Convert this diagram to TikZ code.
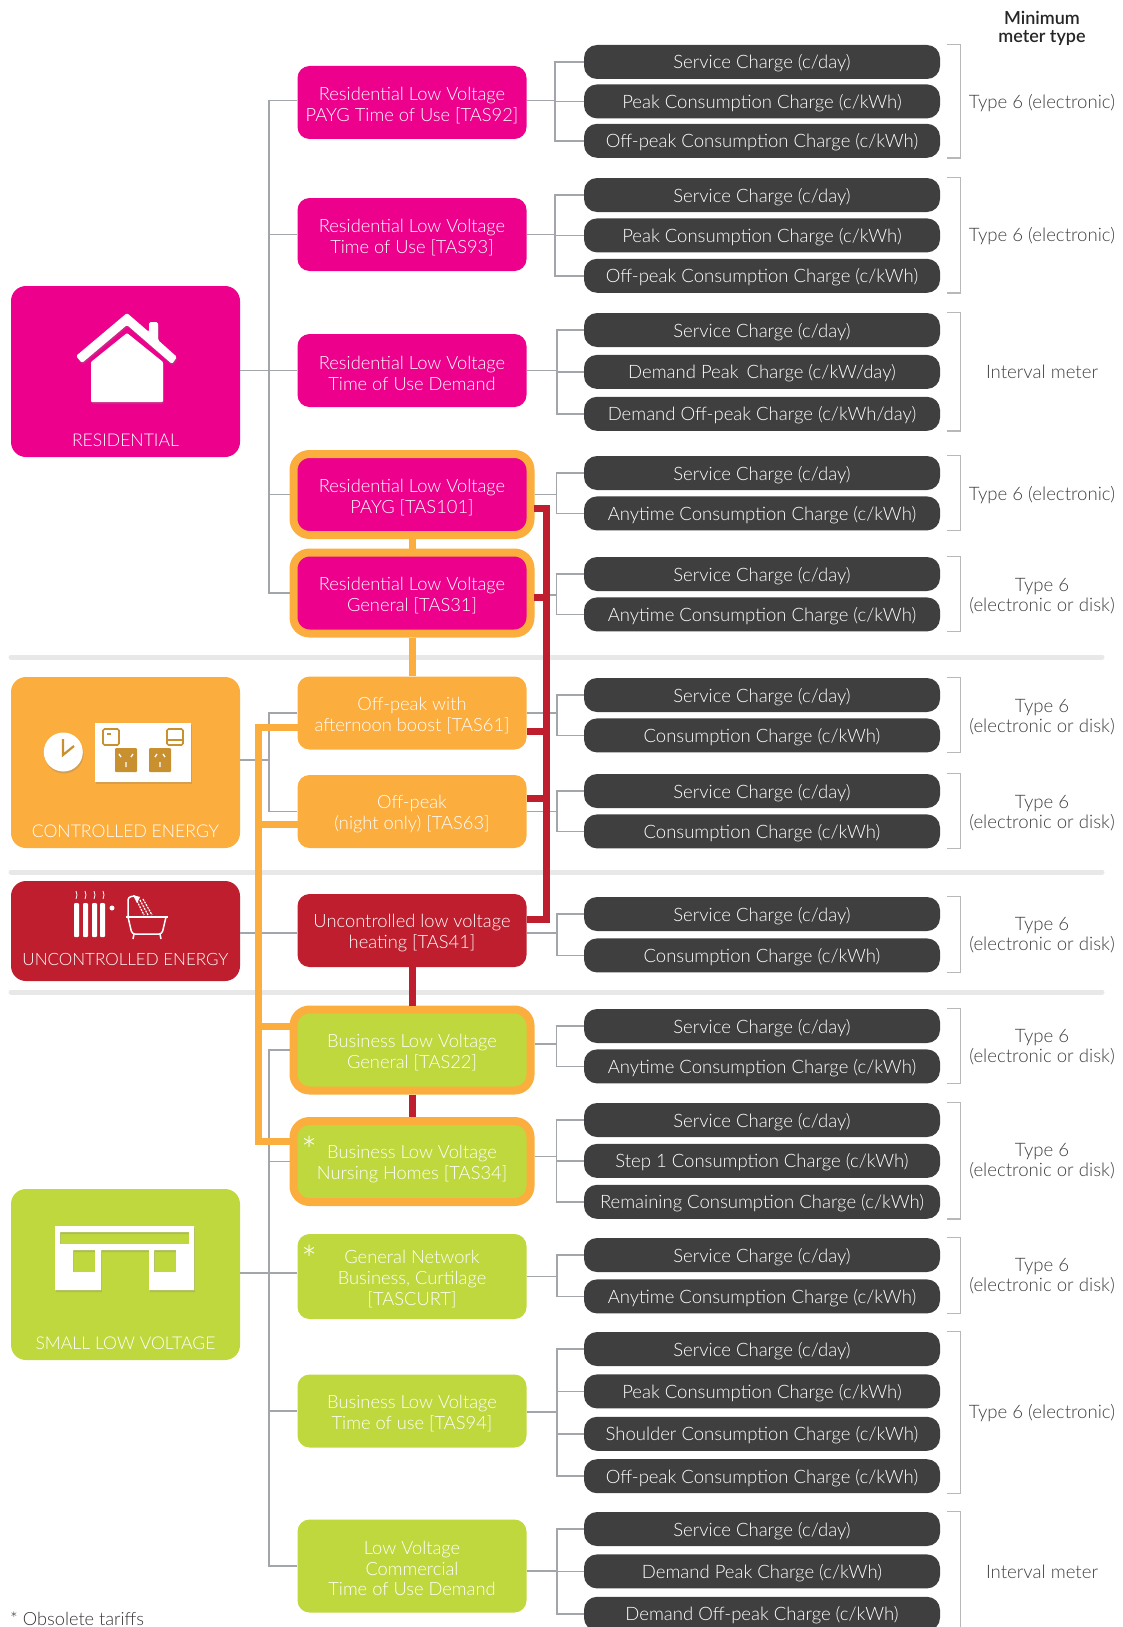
\documentclass[tikz,border=0pt]{standalone}
\usepackage{fontspec}
\setmainfont{Lato Light}
\usetikzlibrary{positioning,shadows}
\definecolor{respink}{HTML}{EC008C}
\definecolor{ctlorange}{HTML}{FBAD3E}
\definecolor{uncred}{HTML}{BE1E2D}
\definecolor{slvgreen}{HTML}{BFD83E}
\definecolor{chargegrey}{HTML}{3F3F40}
\definecolor{linkgrey}{HTML}{A2A5A9}
\definecolor{socketbrown}{HTML}{C8902F}
\tikzset{
  category/.style={rounded corners=15pt, minimum width=229pt, inner sep=0pt},
  catlabel/.style={text=white, inner sep=0pt, text depth=0pt, font=\fontsize{17.6}{20}\selectfont},
  tariff/.style={rounded corners=12pt, minimum width=229pt, minimum height=73pt, inner sep=0pt,
    text=white, align=center, font=\fontsize{18.3}{20.8}\selectfont,
    execute at begin node={\rule{0pt}{39.5pt}}},
  tarifflong/.style={tariff, execute at begin node={\rule{0pt}{60pt}}},
  ring/.style={tariff, draw=ctlorange, line width=8pt, rounded corners=16pt, minimum width=237pt, minimum height=81pt},
  charge/.style={fill=chargegrey, rounded corners=13pt, minimum width=356pt, minimum height=34pt, inner sep=0pt,
    text=white, text height=17pt, text depth=3pt, font=\fontsize{18.5}{20}\selectfont},
  meter/.style={text=black!75, align=center, inner sep=0pt, font=\fontsize{18.6}{20.5}\selectfont},
  link/.style={draw=linkgrey, line width=1.6pt},
  brace/.style={draw=black!28, line width=1.3pt},
  parting/.style={draw=black!9, line width=5pt, line cap=round},
  feedorange/.style={draw=ctlorange, line width=7pt},
  feedred/.style={draw=uncred, line width=7pt},
  icon/.style={fill=white, drop shadow={opacity=0.3, shadow xshift=0.8pt, shadow yshift=-2pt}},
  star/.style={text=white, inner sep=0pt, font=\fontsize{38}{38}\selectfont}
}
\providecommand{\bracket}[2]{\draw[brace] ([xshift=7pt]#1.north east) -- ([xshift=20pt]#1.north east) -- ([xshift=20pt]#2.south east) -- ([xshift=7pt]#2.south east);}
\providecommand{\fork}[4]{\draw[link] (#1.east |- #2) -- (#2); \draw[link] (#3.west) -| (#2) |- (#4.west);}

\begin{document}
\begin{tikzpicture}[x=1pt,y=-1pt]
\useasboundingbox (0,0) rectangle (1123,1627);

% Separators
\coordinate (pa) at (11,657);
\coordinate (pb) at (1102,657);
\coordinate (pc) at (11,872);
\coordinate (pd) at (1102,872);
\coordinate (pe) at (11,992);
\coordinate (pf) at (1102,992);
\draw[parting] (pa) -- (pb);
\draw[parting] (pc) -- (pd);
\draw[parting] (pe) -- (pf);

% Define nodes
\node[category, fill=respink,   minimum height=171pt] (res) at (125.5,371.5) {};
\node[category, fill=ctlorange, minimum height=171pt] (ctl) at (125.5,762.5) {};
\node[category, fill=uncred,    minimum height=100pt] (unc) at (125.5,931)   {};
\node[category, fill=slvgreen,  minimum height=171pt] (slv) at (125.5,1274.5){};

\node[catlabel, above=11pt of res.south] (reslabel) {RESIDENTIAL};
\node[catlabel, above=11pt of ctl.south] (ctllabel) {CONTROLLED ENERGY};
\node[catlabel, above=16pt of unc.south, font=\fontsize{17}{20}\selectfont] (unclabel) {UNCONTROLLED ENERGY};
\node[catlabel, above=11pt of slv.south] (slvlabel) {SMALL LOW VOLTAGE};

\node[tariff, fill=respink]   (t92)   at (412,102.5) {Residential Low Voltage\\PAYG Time of Use [TAS92]};
\node[tariff, fill=respink]   (t93)   at (412,234.5) {Residential Low Voltage\\Time of Use [TAS93]};
\node[tariff, fill=respink]   (trd)   at (412,370.5) {Residential Low Voltage\\Time of Use Demand};
\node[ring,   fill=respink]   (t101)  at (412,494.5) {Residential Low Voltage\\PAYG [TAS101]};
\node[ring,   fill=respink]   (t31)   at (412,593)   {Residential Low Voltage\\General [TAS31]};
\node[tariff, fill=ctlorange] (t61)   at (412,713)   {Off-peak with\\afternoon boost [TAS61]};
\node[tariff, fill=ctlorange] (t63)   at (412,811.5) {Off-peak\\(night only) [TAS63]};
\node[tariff, fill=uncred]    (t41)   at (412,930.5) {Uncontrolled low voltage\\heating [TAS41]};
\node[ring,   fill=slvgreen]  (t22)   at (412,1050)  {Business Low Voltage\\General [TAS22]};
\node[ring,   fill=slvgreen]  (t34)   at (412,1161.5){Business Low Voltage\\Nursing Homes [TAS34]};
\node[tarifflong, fill=slvgreen, minimum height=85pt] (tcurt) at (412,1276.5) {General Network\\Business, Curtilage\\{}[TASCURT]};
\node[tariff, fill=slvgreen]  (t94)   at (412,1411)  {Business Low Voltage\\Time of use [TAS94]};
\node[tarifflong, fill=slvgreen, minimum height=93pt] (tcd) at (412,1566) {Low Voltage\\Commercial\\Time of Use Demand};

\node[star] (s34)   at (310,1150) {*};
\node[star] (scurt) at (310,1259) {*};

\node[charge]                  (c92a) at (762,62) {Service Charge (c/day)};
\node[charge, below=5pt of c92a] (c92b) {Peak Consumption Charge (c/kWh)};
\node[charge, below=5pt of c92b] (c92c) {Off-peak Consumption Charge (c/kWh)};

\node[charge]                  (c93a) at (762,195) {Service Charge (c/day)};
\node[charge, below=6pt of c93a] (c93b) {Peak Consumption Charge (c/kWh)};
\node[charge, below=6pt of c93b] (c93c) {Off-peak Consumption Charge (c/kWh)};

\node[charge]                  (crda) at (762,330) {Service Charge (c/day)};
\node[charge, below=7.5pt of crda] (crdb) {Demand Peak\, Charge (c/kW/day)};
\node[charge, below=7.5pt of crdb] (crdc) {Demand Off-peak Charge (c/kWh/day)};

\node[charge]                  (c101a) at (762,473) {Service Charge (c/day)};
\node[charge, below=6pt of c101a] (c101b) {Anytime Consumption Charge (c/kWh)};

\node[charge]                  (c31a) at (762,574) {Service Charge (c/day)};
\node[charge, below=6pt of c31a] (c31b) {Anytime Consumption Charge (c/kWh)};

\node[charge]                  (c61a) at (762,695) {Service Charge (c/day)};
\node[charge, below=6pt of c61a] (c61b) {Consumption Charge (c/kWh)};

\node[charge]                  (c63a) at (762,791) {Service Charge (c/day)};
\node[charge, below=6pt of c63a] (c63b) {Consumption Charge (c/kWh)};

\node[charge]                  (c41a) at (762,914) {Service Charge (c/day)};
\node[charge, below=7pt of c41a] (c41b) {Consumption Charge (c/kWh)};

\node[charge]                  (c22a) at (762,1026) {Service Charge (c/day)};
\node[charge, below=6pt of c22a] (c22b) {Anytime Consumption Charge (c/kWh)};

\node[charge]                  (c34a) at (762,1120) {Service Charge (c/day)};
\node[charge, below=6.5pt of c34a] (c34b) {Step 1 Consumption Charge (c/kWh)};
\node[charge, below=6.5pt of c34b] (c34c) {Remaining Consumption Charge (c/kWh)};

\node[charge]                  (ccua) at (762,1255) {Service Charge (c/day)};
\node[charge, below=7pt of ccua] (ccub) {Anytime Consumption Charge (c/kWh)};

\node[charge]                  (c94a) at (762,1349) {Service Charge (c/day)};
\node[charge, below=8pt of c94a] (c94b) {Peak Consumption Charge (c/kWh)};
\node[charge, below=8pt of c94b] (c94c) {Shoulder Consumption Charge (c/kWh)};
\node[charge, below=8pt of c94c] (c94d) {Off-peak Consumption Charge (c/kWh)};

\node[charge]                  (ccda) at (762,1529) {Service Charge (c/day)};
\node[charge, below=8pt of ccda] (ccdb) {Demand Peak Charge (c/kWh)};
\node[charge, below=8pt of ccdb] (ccdc) {Demand Off-peak Charge (c/kWh)};

\node[meter, font=\fontsize{18}{18}\selectfont\bfseries, text=black!85] (head) at (1042,28) {Minimum\\meter type};
\node[meter] (m92)  at (1042,103)  {Type 6 (electronic)};
\node[meter] (m93)  at (1042,236)  {Type 6 (electronic)};
\node[meter] (mrd)  at (1042,372)  {Interval meter};
\node[meter] (m101) at (1042,495)  {Type 6 (electronic)};
\node[meter] (m31)  at (1042,596)  {Type 6\\(electronic or disk)};
\node[meter] (m61)  at (1042,717)  {Type 6\\(electronic or disk)};
\node[meter] (m63)  at (1042,813)  {Type 6\\(electronic or disk)};
\node[meter] (m41)  at (1042,935)  {Type 6\\(electronic or disk)};
\node[meter] (m22)  at (1042,1047) {Type 6\\(electronic or disk)};
\node[meter] (m34)  at (1042,1161) {Type 6\\(electronic or disk)};
\node[meter] (mcu)  at (1042,1276) {Type 6\\(electronic or disk)};
\node[meter] (m94)  at (1042,1413) {Type 6 (electronic)};
\node[meter] (mcd)  at (1042,1572) {Interval meter};
\node[meter, anchor=west, text=black!80, font=\fontsize{18.2}{20}\selectfont] (obsolete) at (10,1619) {* Obsolete tariffs};

% Connect the nodes
\coordinate[right=28pt of t92, yshift=2pt]  (f92);
\coordinate[right=28pt of t93]  (f93);
\coordinate[right=30pt of trd]  (frd);
\coordinate[right=22pt of t101] (f101);
\coordinate[right=22pt of t31, yshift=-2pt] (f31);
\coordinate[right=30pt of t61]  (f61);
\coordinate[right=30pt of t63]  (f63);
\coordinate[right=30pt of t41, yshift=-2.5pt]  (f41);
\coordinate[right=22pt of t22, yshift=6pt]  (f22);
\coordinate[right=22pt of t34, yshift=5pt]  (f34);
\coordinate[right=30pt of tcurt] (fcu);
\coordinate[right=30pt of t94, yshift=-1pt]  (f94);
\coordinate[right=30pt of tcd, yshift=-5pt]  (fcd);

\coordinate (ja) at (269,369);
\coordinate (jc) at (269,760);
\coordinate (js) at (269,1273);
\draw[link] (res.east |- trd) -- (trd.west);
\draw[link] (t92.west |- f92) -| (ja) |- (t31.west);
\draw[link] (ja) |- (t93.west);
\draw[link] (ja) |- (t101.west);
\draw[link] (ctl.east |- jc) -- (jc);
\draw[link] (t61.west) -| (jc) |- (t63.west);
\draw[link] (unc.east |- f41) -- (t41.west |- f41);
\draw[link] (slv.east |- js) -- (tcurt.west |- js);
\draw[link] (t22.west) -| (js) |- (tcd.west);
\draw[link] (js) |- (t34.west);
\draw[link] (js) |- (t94.west);

\fork{t92}{f92}{c92a}{c92c}
\draw[link] (f92) |- (c92b.west);
\fork{t93}{f93}{c93a}{c93c}
\draw[link] (f93) |- (c93b.west);
\fork{trd}{frd}{crda}{crdc}
\draw[link] (frd) |- (crdb.west);
\fork{t101}{f101}{c101a}{c101b}
\fork{t31}{f31}{c31a}{c31b}
\fork{t61}{f61}{c61a}{c61b}
\fork{t63}{f63}{c63a}{c63b}
\fork{t41}{f41}{c41a}{c41b}
\fork{t22}{f22}{c22a}{c22b}
\fork{t34}{f34}{c34a}{c34c}
\draw[link] (f34) |- (c34b.west);
\fork{tcurt}{fcu}{ccua}{ccub}
\fork{t94}{f94}{c94a}{c94d}
\draw[link] (f94) |- (c94b.west);
\draw[link] (f94) |- (c94c.west);
\fork{tcd}{fcd}{ccda}{ccdc}
\draw[link] (fcd) |- (ccdb.west);

% Meter brackets
\bracket{c92a}{c92c}
\bracket{c93a}{c93c}
\bracket{crda}{crdc}
\bracket{c101a}{c101b}
\bracket{c31a}{c31b}
\bracket{c61a}{c61b}
\bracket{c63a}{c63b}
\bracket{c41a}{c41b}
\bracket{c22a}{c22b}
\bracket{c34a}{c34c}
\bracket{ccua}{ccub}
\bracket{c94a}{c94d}
\bracket{ccda}{ccdc}

% Orange feed
\coordinate (oa) at (298,727);
\coordinate (ob) at (298,824);
\coordinate (oc) at (290,1026);
\coordinate (od) at (290,1141);
\coordinate (ot) at (258,727);
\coordinate (ou) at (258,1141);
\draw[feedorange] (t101.south) -- (t31.north);
\draw[feedorange] (t31.south) -- (t61.north);
\draw[feedorange] (oa) -- (ot) -- (ou) -- (od);
\draw[feedorange] (ob) -- (ob -| ot);
\draw[feedorange] (oc) -- (oc -| ot);

% Red feed
\coordinate (ra) at (534,508);
\coordinate (rb) at (534,597);
\coordinate (rc) at (527,731);
\coordinate (rd) at (527,798);
\coordinate (re) at (527,919);
\coordinate (rt) at (546,508);
\coordinate (ru) at (546,919);
\draw[feedred] (ra) -- (rt) -- (ru) -- (re);
\draw[feedred] (rb) -- (rb -| rt);
\draw[feedred] (rc) -- (rc -| rt);
\draw[feedred] (rd) -- (rd -| rt);
\draw[feedred] (t41.south) -- (t22.north);
\draw[feedred] (t22.south) -- (t34.north);

% House
\path[icon, rounded corners=1.5pt] (127,313) -- (149,332) -- (149,322) -- (158,322) -- (158,340) -- (177,357) -- (172,364) -- (127,325) -- (82,363) -- (76,356) -- cycle;
\path[icon, rounded corners=1pt] (127,333) -- (163,362) -- (163,402) -- (91,402) -- (91,362) -- cycle;

% Clock and socket
\path[icon] (63.3,752) circle (19.5);
\draw[socketbrown, line width=2.2pt] (63,739) -- (63,755) -- (74,746);
\path[icon] (95,723) rectangle (191,782);
\draw[socketbrown, fill=white, line width=1.6pt, rounded corners=1.5pt] (103,729) rectangle (119,745);
\draw[socketbrown, fill=white, line width=1.6pt, rounded corners=1.5pt] (167,729) rectangle (183,745);
\fill[socketbrown] (107,733) rectangle (111,735);
\draw[socketbrown, line width=1.2pt] (168,740) -- (182,740);
\fill[socketbrown, rounded corners=1pt] (115,748) rectangle (137,772);
\fill[socketbrown, rounded corners=1pt] (149,748) rectangle (171,772);
\draw[white, line width=1.3pt] (121,757) -- (119,754) (131,757) -- (133,754) (126,762) -- (126,767);
\draw[white, line width=1.3pt] (155,757) -- (157,754) (165,757) -- (163,754) (160,762) -- (160,767);

% Radiator and bath
\fill[white, rounded corners=1pt] (74,903) rectangle (79,937);
\fill[white, rounded corners=1pt] (83,903) rectangle (88,937);
\fill[white, rounded corners=1pt] (92,903) rectangle (97,937);
\fill[white, rounded corners=1pt] (100,903) rectangle (105,937);
\fill[white] (112,908) circle (2.5);
\draw[white, line width=0.8pt] (76,891) -- (77,895) -- (76,899) (85,891) -- (86,895) -- (85,899) (94,891) -- (95,895) -- (94,899) (103,891) -- (104,895) -- (103,899);
\draw[white, line width=1.5pt] (126,917) -- (168,917);
\draw[white, line width=1.5pt, rounded corners=3pt] (128,917) -- (132,934) -- (162,934) -- (166,917);
\draw[white, line width=1.5pt] (134,934) -- (133,939) (160,934) -- (161,939);
\draw[white, line width=1.5pt, rounded corners=3pt] (128,917) -- (128,897) -- (135,896);
\fill[white] (133,895) -- (140,897) -- (137,903) -- cycle;
\draw[white, line width=1.2pt, dash pattern=on 2pt off 1pt] (137,901) -- (144,915) (140,900) -- (148,915) (143,899) -- (152,915);

% Shop
\fill[icon, even odd rule] (55,1226) -- (194,1226) -- (194,1290) -- (149,1290) -- (149,1250) -- (101,1250) -- (101,1290) -- (55,1290) -- cycle
  (60,1232) rectangle (189,1244) (73,1250) rectangle (95,1272) (154,1250) rectangle (176,1272);

\end{tikzpicture}
\end{document}
